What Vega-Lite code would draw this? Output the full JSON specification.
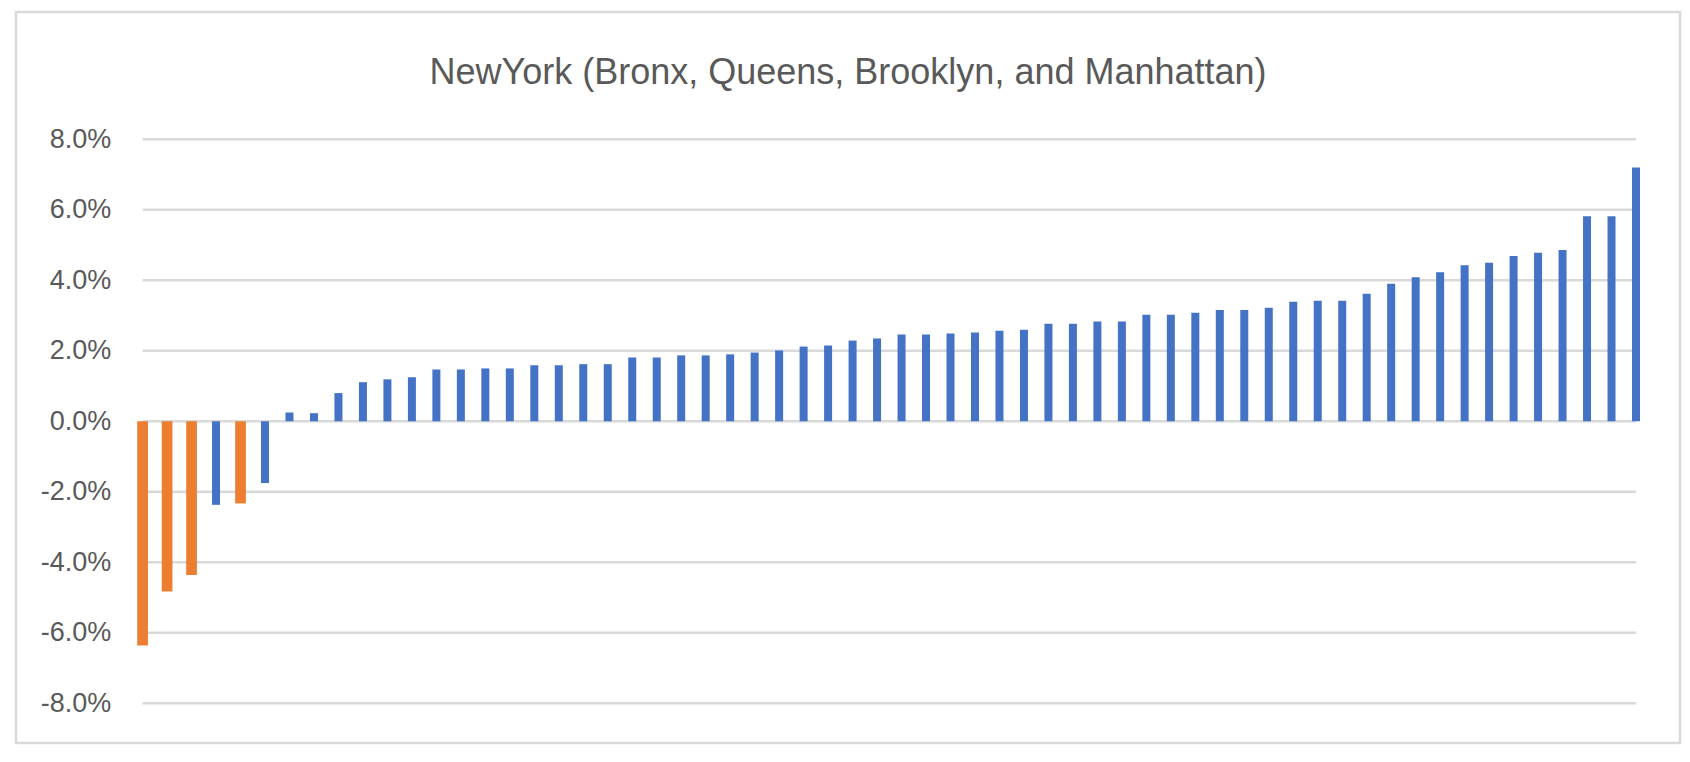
{
  "$schema": "https://vega.github.io/schema/vega-lite/v6.json",
  "width": 1664,
  "height": 731,
  "autosize": {"type": "none"},
  "padding": {"left": 16, "top": 12, "right": 10, "bottom": 19},
  "background": "#ffffff",
  "title": {
    "text": "NewYork (Bronx, Queens, Brooklyn, and Manhattan)",
    "font": "Liberation Sans",
    "fontSize": 36,
    "fontWeight": "normal",
    "color": "#595959",
    "anchor": "middle",
    "frame": "group",
    "baseline": "alphabetic",
    "offset": -72,
    "dy": 36
  },
  "datasets": {
    "grid": [
      {"value": -0.08}, {"value": -0.06}, {"value": -0.04}, {"value": -0.02},
      {"value": 0.0}, {"value": 0.02}, {"value": 0.04}, {"value": 0.06}, {"value": 0.08}
    ],
    "bars": [
      {"rank": 0, "value": -0.0636, "category": "highlighted"},
      {"rank": 1, "value": -0.0483, "category": "highlighted"},
      {"rank": 2, "value": -0.0436, "category": "highlighted"},
      {"rank": 3, "value": -0.0237, "category": "other"},
      {"rank": 4, "value": -0.0233, "category": "highlighted"},
      {"rank": 5, "value": -0.0175, "category": "other"},
      {"rank": 6, "value": 0.0025, "category": "other"},
      {"rank": 7, "value": 0.0023, "category": "other"},
      {"rank": 8, "value": 0.0080, "category": "other"},
      {"rank": 9, "value": 0.0111, "category": "other"},
      {"rank": 10, "value": 0.0119, "category": "other"},
      {"rank": 11, "value": 0.0125, "category": "other"},
      {"rank": 12, "value": 0.0147, "category": "other"},
      {"rank": 13, "value": 0.0147, "category": "other"},
      {"rank": 14, "value": 0.0150, "category": "other"},
      {"rank": 15, "value": 0.0150, "category": "other"},
      {"rank": 16, "value": 0.0159, "category": "other"},
      {"rank": 17, "value": 0.0159, "category": "other"},
      {"rank": 18, "value": 0.0162, "category": "other"},
      {"rank": 19, "value": 0.0162, "category": "other"},
      {"rank": 20, "value": 0.0181, "category": "other"},
      {"rank": 21, "value": 0.0181, "category": "other"},
      {"rank": 22, "value": 0.0187, "category": "other"},
      {"rank": 23, "value": 0.0187, "category": "other"},
      {"rank": 24, "value": 0.0190, "category": "other"},
      {"rank": 25, "value": 0.0195, "category": "other"},
      {"rank": 26, "value": 0.0201, "category": "other"},
      {"rank": 27, "value": 0.0212, "category": "other"},
      {"rank": 28, "value": 0.0215, "category": "other"},
      {"rank": 29, "value": 0.0229, "category": "other"},
      {"rank": 30, "value": 0.0235, "category": "other"},
      {"rank": 31, "value": 0.0246, "category": "other"},
      {"rank": 32, "value": 0.0246, "category": "other"},
      {"rank": 33, "value": 0.0249, "category": "other"},
      {"rank": 34, "value": 0.0252, "category": "other"},
      {"rank": 35, "value": 0.0257, "category": "other"},
      {"rank": 36, "value": 0.0260, "category": "other"},
      {"rank": 37, "value": 0.0277, "category": "other"},
      {"rank": 38, "value": 0.0277, "category": "other"},
      {"rank": 39, "value": 0.0283, "category": "other"},
      {"rank": 40, "value": 0.0283, "category": "other"},
      {"rank": 41, "value": 0.0302, "category": "other"},
      {"rank": 42, "value": 0.0302, "category": "other"},
      {"rank": 43, "value": 0.0308, "category": "other"},
      {"rank": 44, "value": 0.0316, "category": "other"},
      {"rank": 45, "value": 0.0316, "category": "other"},
      {"rank": 46, "value": 0.0322, "category": "other"},
      {"rank": 47, "value": 0.0339, "category": "other"},
      {"rank": 48, "value": 0.0342, "category": "other"},
      {"rank": 49, "value": 0.0342, "category": "other"},
      {"rank": 50, "value": 0.0362, "category": "other"},
      {"rank": 51, "value": 0.0390, "category": "other"},
      {"rank": 52, "value": 0.0409, "category": "other"},
      {"rank": 53, "value": 0.0423, "category": "other"},
      {"rank": 54, "value": 0.0443, "category": "other"},
      {"rank": 55, "value": 0.0450, "category": "other"},
      {"rank": 56, "value": 0.0469, "category": "other"},
      {"rank": 57, "value": 0.0478, "category": "other"},
      {"rank": 58, "value": 0.0486, "category": "other"},
      {"rank": 59, "value": 0.0582, "category": "other"},
      {"rank": 60, "value": 0.0582, "category": "other"},
      {"rank": 61, "value": 0.0720, "category": "other"}
    ]
  },
  "encoding": {
    "y": {
      "field": "value",
      "type": "quantitative",
      "scale": {"domain": [-0.08, 0.08], "range": [691.3, 127.3], "nice": false, "zero": false},
      "axis": {
        "title": null,
        "domain": false,
        "ticks": false,
        "tickSize": 0,
        "grid": false,
        "values": [-0.08, -0.06, -0.04, -0.02, 0, 0.02, 0.04, 0.06, 0.08],
        "labelExpr": "replace(format(datum.value, '.1%'), '\u2212', '-')",
        "labelFont": "Liberation Sans",
        "labelFontSize": 27,
        "labelColor": "#595959",
        "labelPadding": 0,
        "labelAlign": "right",
        "offset": -94.7
      }
    }
  },
  "layer": [
    {
      "data": {"name": "grid"},
      "mark": {"type": "rule", "color": "#d9d9d9", "strokeWidth": 2.5},
      "encoding": {
        "x": {"datum": 0, "type": "quantitative", "scale": {"domain": [0, 61], "range": [121.6, 1625], "nice": false, "zero": false}, "axis": null},
        "x2": {"datum": 61}
      }
    },
    {
      "data": {"name": "bars"},
      "mark": {"type": "bar"},
      "encoding": {
        "x": {"field": "rank", "type": "quantitative", "axis": null},
        "color": {
          "field": "category",
          "type": "nominal",
          "scale": {"domain": ["highlighted", "other"], "range": ["#ED7D31", "#4472C4"]},
          "legend": null
        },
        "size": {
          "field": "category",
          "type": "ordinal",
          "scale": {"domain": ["highlighted", "other"], "range": [10.7, 8]},
          "legend": null
        }
      }
    }
  ],
  "config": {
    "view": {"stroke": "#d9d9d9", "strokeWidth": 2.5},
    "font": "Liberation Sans"
  }
}
